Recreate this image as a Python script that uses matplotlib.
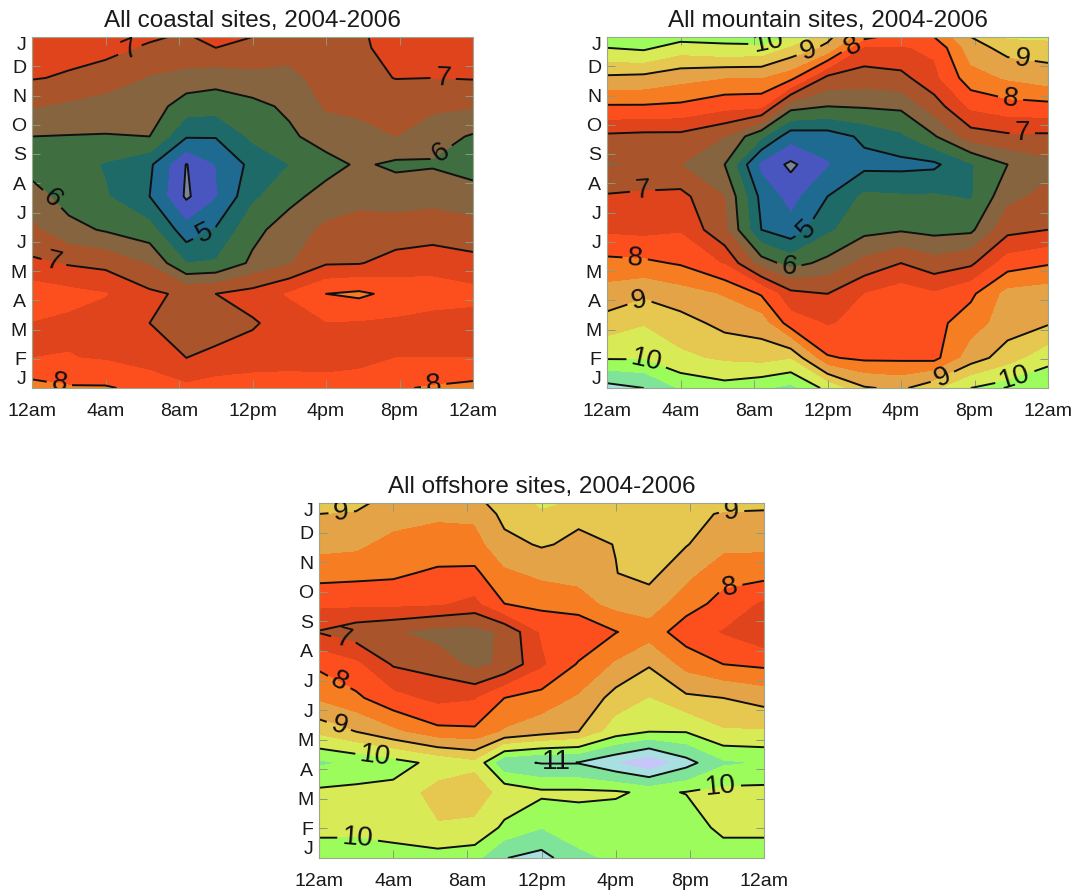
import numpy as np
import matplotlib
matplotlib.use("Agg")
import matplotlib.pyplot as plt

plt.rcParams['font.family'] = ['Liberation Sans', 'DejaVu Sans']

hours = [0, 2, 4, 6.4, 8.4, 10, 12, 14, 16, 17.8, 19.8, 21.8, 24]
months = [0, 1.03, 2.22, 3.22, 4.27, 5.41, 6.55, 7.64, 8.6, 9.63, 10.6, 11.63, 12]
x_ticks = [0, 4, 8, 12, 16, 20, 24]
x_labels = ['12am', '4am', '8am', '12pm', '4pm', '8pm', '12am']
y_labels = ['J', 'F', 'M', 'A', 'M', 'J', 'J', 'A', 'S', 'O', 'N', 'D', 'J']

# rows run from the bottom January to the top January
coastal = [
    [8.2, 8.05, 8.05, 7.85, 7.6, 7.75, 7.8, 7.8, 7.7, 7.75, 7.95, 8.05, 8.15],
    [7.5, 7.52, 7.45, 7.25, 7.0, 7.08, 7.2, 7.25, 7.3, 7.35, 7.5, 7.5, 7.5],
    [7.48, 7.4, 7.3, 7.0, 6.85, 6.85, 6.95, 7.2, 7.47, 7.45, 7.4, 7.3, 7.3],
    [7.8, 7.65, 7.52, 7.1, 6.9, 7.0, 7.2, 7.55, 8.0, 8.1, 7.85, 7.75, 7.65],
    [7.1, 6.95, 6.85, 6.45, 5.5, 5.55, 6.1, 6.45, 6.95, 6.97, 7.2, 7.3, 7.15],
    [6.6, 6.15, 5.95, 5.7, 4.7, 5.05, 5.85, 6.25, 6.6, 6.7, 6.7, 6.75, 6.7],
    [6.2, 5.8, 5.55, 5.0, 3.92, 4.45, 5.4, 5.85, 6.2, 6.35, 6.3, 6.35, 6.2],
    [5.8, 5.75, 5.45, 5.1, 3.98, 4.5, 5.15, 5.5, 5.8, 6.08, 5.9, 5.95, 5.8],
    [6.0, 5.98, 5.98, 6.0, 5.05, 5.03, 5.6, 5.9, 6.25, 6.35, 6.5, 6.2, 5.95],
    [6.53, 6.4, 6.2, 6.25, 5.75, 5.7, 5.85, 6.1, 6.55, 6.6, 6.75, 6.6, 6.53],
    [7.03, 6.95, 6.85, 6.45, 6.3, 6.2, 6.35, 6.35, 6.7, 6.9, 7.01, 7.0, 7.03],
    [7.2, 7.15, 7.1, 6.95, 6.9, 7.0, 6.85, 6.7, 6.7, 6.9, 7.2, 7.15, 7.2],
    [7.3, 7.2, 7.15, 7.05, 6.95, 7.15, 7.0, 6.8, 6.7, 6.93, 7.2, 7.2, 7.3],
]
mountain = [
    [11.2, 11.0, 10.4, 10.2, 10.4, 10.6, 9.85, 9.05, 8.9, 9.35, 10.0, 10.25, 10.5],
    [9.95, 9.95, 9.6, 9.4, 9.3, 9.45, 8.05, 7.9, 7.9, 7.85, 8.75, 9.25, 9.8],
    [9.2, 9.45, 9.2, 8.85, 8.75, 7.75, 7.45, 7.65, 7.8, 7.85, 8.25, 8.75, 8.95],
    [8.7, 8.9, 8.7, 8.45, 7.95, 7.15, 7.0, 7.5, 7.75, 7.55, 7.9, 8.65, 8.75],
    [8.15, 8.1, 7.95, 7.45, 6.25, 5.8, 6.15, 6.65, 7.0, 6.7, 6.9, 7.75, 7.95],
    [7.4, 7.35, 7.45, 6.6, 5.0, 4.7, 5.4, 5.85, 5.95, 5.85, 5.9, 6.85, 7.0],
    [7.05, 7.1, 7.15, 6.5, 4.85, 4.3, 5.0, 5.6, 5.55, 5.55, 5.45, 6.35, 6.65],
    [6.45, 6.55, 6.5, 6.0, 4.35, 3.9, 4.45, 4.85, 4.85, 4.9, 5.45, 6.0, 6.35],
    [6.9, 6.85, 6.85, 6.5, 5.6, 4.7, 4.75, 5.1, 5.4, 5.95, 6.75, 6.9, 6.9],
    [7.95, 7.95, 7.9, 7.65, 7.6, 6.2, 6.0, 6.05, 6.1, 6.75, 7.6, 7.8, 7.85],
    [8.9, 8.85, 8.65, 8.5, 8.5, 8.15, 6.85, 6.75, 6.85, 7.35, 8.3, 8.55, 8.75],
    [10.0, 10.1, 9.75, 9.9, 9.85, 9.4, 8.85, 7.4, 7.45, 7.6, 8.75, 9.2, 9.25],
    [10.4, 10.45, 10.2, 10.15, 10.3, 9.95, 9.15, 8.15, 7.75, 8.0, 9.0, 9.55, 9.6],
]
offshore = [
    [10.2, 10.2, 10.2, 10.2, 10.3, 10.98, 11.2, 10.6, 10.4, 10.35, 10.35, 10.3, 10.2],
    [9.9, 9.9, 9.8, 9.55, 9.6, 10.1, 10.45, 10.25, 10.3, 10.3, 10.3, 9.85, 9.9],
    [9.9, 9.85, 9.85, 9.25, 9.25, 9.65, 9.9, 9.9, 9.93, 10.1, 9.98, 9.85, 9.85],
    [10.55, 10.4, 10.2, 9.85, 9.6, 10.85, 11.03, 11.03, 11.45, 11.85, 11.2, 10.55, 10.45],
    [9.35, 9.0, 8.6, 8.15, 8.1, 8.55, 8.8, 9.0, 9.75, 10.0, 9.98, 9.55, 9.55],
    [8.4, 8.1, 7.65, 7.35, 7.45, 8.0, 8.2, 8.55, 9.2, 9.5, 9.1, 9.0, 8.8],
    [7.9, 7.6, 6.95, 6.8, 6.35, 6.6, 7.4, 8.05, 8.55, 8.95, 8.3, 8.0, 7.9],
    [6.97, 6.7, 6.55, 6.3, 6.3, 6.6, 7.55, 7.55, 7.98, 8.25, 7.75, 7.45, 7.05],
    [7.6, 7.6, 7.6, 7.55, 7.35, 8.0, 8.15, 8.3, 8.65, 8.75, 8.2, 7.85, 7.4],
    [8.2, 8.15, 8.1, 7.9, 7.9, 8.4, 8.6, 8.65, 8.99, 9.15, 8.65, 8.15, 8.2],
    [8.65, 8.6, 8.3, 8.35, 8.3, 8.85, 9.05, 8.9, 9.01, 9.35, 9.03, 8.65, 8.6],
    [9.0, 8.95, 8.75, 8.55, 8.6, 9.15, 9.45, 9.1, 9.05, 9.4, 9.15, 8.95, 8.95],
    [9.2, 9.15, 8.75, 8.65, 8.85, 9.25, 9.55, 9.45, 9.35, 9.4, 9.3, 9.2, 9.1],
]

fill_levels = np.arange(3.5, 12.01, 0.5)
line_levels = [4, 5, 6, 7, 8, 9, 10, 11]
band_colors = ['#79869a', '#4a56c0', '#1f6a90', '#1e6a68', '#3f6f40', '#86643f',
               '#a9542a', '#e0441c', '#fd4e1e', '#f67d22', '#e3a346', '#e6c850',
               '#d8ea55', '#9cfc5c', '#7fe39a', '#a8dfe0', '#c6c6f8']

coastal_label_spots = [(5.32, 11.57), (22.38, 10.66), (22.29, 8.03), (1.23, 6.55),
                       (9.49, 5.16), (1.23, 4.39), (1.51, 0.23), (21.83, 0.23)]
mountain_label_spots = [(8.89, 11.6), (10.98, 11.5), (13.34, 11.73), (22.6, 11.28),
                        (21.96, 9.91), (22.6, 8.83), (1.91, 6.95), (10.98, 5.36),
                        (9.89, 4.1), (1.54, 4.5), (1.72, 3.08), (2.18, 0.97),
                        (18.24, 0.4), (22.05, 0.63)]
offshore_label_spots = [(1.2, 11.65), (22.25, 11.75), (22.16, 9.17), (1.38, 7.54),
                        (1.2, 6.07), (1.12, 4.56), (3.09, 3.6), (12.8, 3.32),
                        (21.6, 2.64), (2.1, 0.73)]

W, H = 1076, 890
fig = plt.figure(figsize=(W / 100, H / 100), dpi=100)


def panel(box, grid, title, spots):
    x0, y0, x1, y1 = box
    ax = fig.add_axes([x0 / W, 1 - y1 / H, (x1 - x0) / W, (y1 - y0) / H])
    z = np.array(grid)
    ax.contourf(hours, months, z, levels=fill_levels, colors=band_colors)
    cs = ax.contour(hours, months, z, levels=line_levels, colors='#101010', linewidths=1.4)
    ax.clabel(cs, fmt='%d', fontsize=20, inline=True, inline_spacing=5, manual=spots)
    ax.set_xlim(0, 24)
    ax.set_ylim(0, 12)
    ax.set_xticks(x_ticks)
    ax.set_xticklabels(x_labels)
    ax.set_yticks(range(13))
    ax.set_yticklabels(y_labels)
    ax.tick_params(direction='in', top=True, right=True, length=6, width=0.7,
                   color='#8a9a80', labelsize=14, labelcolor='#1a1a1a', pad=11)
    ax.tick_params(axis='y', pad=4)
    ticks = ax.get_yticklabels()
    ticks[0].set_va('bottom')
    ticks[-1].set_va('top')
    for s in ax.spines.values():
        s.set_color('#9aa890')
        s.set_linewidth(0.8)
    ax.set_title(title, fontsize=17.5, color='#1a1a1a', pad=7)


panel((32, 37, 473, 388), coastal, 'All coastal sites, 2004-2006', coastal_label_spots)
panel((607, 37, 1048, 388), mountain, 'All mountain sites, 2004-2006', mountain_label_spots)
panel((319, 503, 764, 858), offshore, 'All offshore sites, 2004-2006', offshore_label_spots)

fig.savefig('out.png', dpi=100, facecolor='white')
